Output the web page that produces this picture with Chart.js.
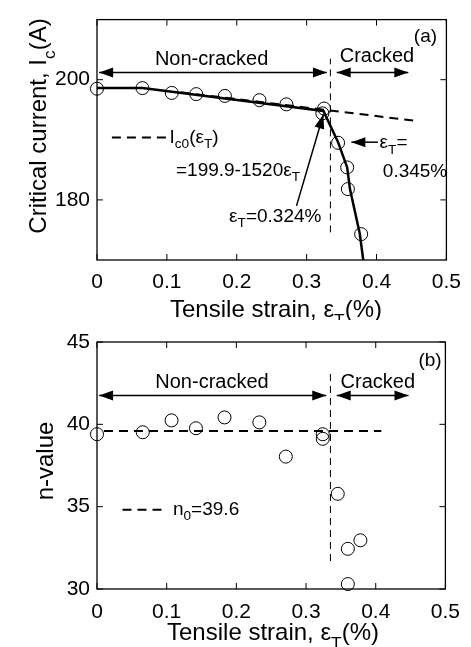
<!DOCTYPE html>
<html>
<head>
<meta charset="utf-8">
<script src="https://cdn.jsdelivr.net/npm/chart.js@4.4.1/dist/chart.umd.min.js"></script>
<style>
body{margin:0;background:#fff;}
#wrap{position:relative;width:471px;height:647px;}
canvas{position:absolute;left:0;}
#chartA{top:0;}
#chartB{top:320px;}
</style>
</head>
<body>
<div id="wrap">
<canvas id="chartA" width="471" height="320"></canvas>
<canvas id="chartB" width="471" height="327"></canvas>
</div>
<script>
// shared x axis (tensile strain, %)
const xTicks = [0, 0.1, 0.2, 0.3, 0.4, 0.5];
const xTickLabels = ["0", "0.1", "0.2", "0.3", "0.4", "0.5"];

// panel (a): critical current
const strainA = [0, 0.065, 0.107, 0.142, 0.183, 0.2325, 0.271, 0.325, 0.3225, 0.345, 0.358, 0.359, 0.378];
const currentA = [198.5, 198.6, 197.8, 197.6, 197.3, 196.6, 195.9, 195.2, 194.4, 189.5, 185.4, 181.8, 174.3];
const fitStrainA = [0, 0.065, 0.324, 0.345, 0.358, 0.362, 0.376, 0.381];
const fitCurrentA = [198.6, 198.6, 194.8, 189.6, 185.4, 181.8, 174.4, 170];
const ic0Strain = [0.12, 0.46];
const ic0Current = [197.9, 193.1];
const crackStrainA = 0.334;
const crackRangeA = [174.6, 203.5];
const yTicksA = [180, 200];
const yTickLabelsA = ["180", "200"];

// panel (b): n-value
const strainB = [0, 0.0657, 0.107, 0.142, 0.183, 0.233, 0.271, 0.324, 0.324, 0.3455, 0.36, 0.378, 0.36];
const nValueB = [39.4, 39.52, 40.24, 39.76, 40.42, 40.12, 38.04, 39.4, 39.12, 35.78, 32.44, 32.96, 30.3];
const n0Strain = [0.01, 0.408];
const n0Value = [39.6, 39.6];
const crackStrainB = 0.335;
const crackRangeB = [31.7, 43.25];
const yTicksB = [30, 35, 40, 45];
const yTickLabelsB = ["30", "35", "40", "45"];

const FONT = "Liberation Sans, Arial, sans-serif";

function pts(xs, ys) {
    return xs.map((x, i) => ({x: x, y: ys[i]}));
}

function drawRich(ctx, segs, x, y, size, align) {
    let w = 0;
    segs.forEach(s => {
        ctx.font = (s[1] ? size * 0.72 : size) + "px " + FONT;
        w += ctx.measureText(s[0]).width;
    });
    let cx = align === "center" ? x - w / 2 : x;
    ctx.textAlign = "left";
    segs.forEach(s => {
        const sz = s[1] ? size * 0.72 : size;
        ctx.font = sz + "px " + FONT;
        ctx.fillText(s[0], cx, y + (s[1] ? size * 0.36 : 0));
        cx += ctx.measureText(s[0]).width;
    });
}

function head(ctx, x1, y1, x2, y2) {
    const a = Math.atan2(y2 - y1, x2 - x1);
    const len = 14, hw = 5;
    ctx.beginPath();
    ctx.moveTo(x2, y2);
    ctx.lineTo(x2 - len * Math.cos(a) + hw * Math.sin(a), y2 - len * Math.sin(a) - hw * Math.cos(a));
    ctx.lineTo(x2 - len * Math.cos(a) - hw * Math.sin(a), y2 - len * Math.sin(a) + hw * Math.cos(a));
    ctx.closePath();
    ctx.fill();
}

// frame, inward ticks, arrows, notes and axis titles
const decor = {
    id: "decor",
    afterDraw(chart, args, o) {
        const ctx = chart.ctx, a = chart.chartArea;
        const xs = chart.scales.x, ys = chart.scales.y;
        ctx.save();
        ctx.strokeStyle = "#000";
        ctx.fillStyle = "#000";
        ctx.lineWidth = 1.3;
        ctx.strokeRect(a.left, a.top, a.right - a.left, a.bottom - a.top);
        ctx.lineWidth = 1;
        ctx.beginPath();
        xTicks.forEach(v => {
            const px = xs.getPixelForValue(v);
            ctx.moveTo(px, a.bottom); ctx.lineTo(px, a.bottom - 6);
            ctx.moveTo(px, a.top); ctx.lineTo(px, a.top + 6);
        });
        o.yTicks.forEach(v => {
            const py = ys.getPixelForValue(v);
            ctx.moveTo(a.left, py); ctx.lineTo(a.left + 6, py);
            ctx.moveTo(a.right, py); ctx.lineTo(a.right - 6, py);
        });
        ctx.stroke();

        ctx.lineWidth = 1.5;
        o.arrows.forEach(ar => {
            const x1 = xs.getPixelForValue(ar.from[0]), y1 = ys.getPixelForValue(ar.from[1]);
            const x2 = xs.getPixelForValue(ar.to[0]), y2 = ys.getPixelForValue(ar.to[1]);
            ctx.beginPath(); ctx.moveTo(x1, y1); ctx.lineTo(x2, y2); ctx.stroke();
            head(ctx, x1, y1, x2, y2);
            if (ar.both) head(ctx, x2, y2, x1, y1);
        });

        ctx.textBaseline = "middle";
        o.notes.forEach(n => {
            drawRich(ctx, n.segs, xs.getPixelForValue(n.x), ys.getPixelForValue(n.y), n.size || 20, n.align || "left");
        });

        ctx.textBaseline = "alphabetic";
        drawRich(ctx, o.xTitle, o.xTitlePos[0], o.xTitlePos[1], 24, "center");
        ctx.translate(o.yTitlePos[0], o.yTitlePos[1]);
        ctx.rotate(-Math.PI / 2);
        drawRich(ctx, o.yTitle, 0, 0, 24, "center");
        ctx.restore();
    }
};

function scales(yMin, yMax, yTicks, yLabels, xH, xPad) {
    return {
        x: {
            type: "linear", min: 0, max: 0.5,
            afterBuildTicks: s => { s.ticks = xTicks.map(v => ({value: v})); },
            afterFit: s => { s.height = xH; },
            grid: {display: false, drawTicks: false},
            border: {display: false},
            ticks: {color: "#000", font: {family: FONT, size: 21}, padding: xPad, maxRotation: 0, autoSkip: false,
                callback: (v, i) => xTickLabels[i]}
        },
        y: {
            type: "linear", min: yMin, max: yMax,
            afterBuildTicks: s => { s.ticks = yTicks.map(v => ({value: v})); },
            afterFit: s => { s.width = 97; },
            grid: {display: false, drawTicks: false},
            border: {display: false},
            ticks: {color: "#000", font: {family: FONT, size: 21}, padding: 7, autoSkip: false,
                callback: (v, i) => yLabels[i]}
        }
    };
}

const circle = {
    showLine: false, pointStyle: "circle", pointRadius: 6.5, pointHoverRadius: 6.5,
    pointBorderWidth: 1, pointBorderColor: "#000", pointBackgroundColor: "rgba(0,0,0,0)", clip: false
};
const eT = [["ε"], ["T", 1]];

new Chart(document.getElementById("chartA"), {
    type: "scatter",
    data: {
        datasets: [
            Object.assign({data: pts(strainA, currentA)}, circle),
            {data: pts(fitStrainA, fitCurrentA), showLine: true, borderColor: "#000", borderWidth: 2.5, pointRadius: 0, tension: 0},
            {data: pts(ic0Strain, ic0Current), showLine: true, borderColor: "#000", borderWidth: 2, borderDash: [9, 6], pointRadius: 0},
            {data: pts([crackStrainA, crackStrainA], crackRangeA), showLine: true, borderColor: "#000", borderWidth: 1, borderDash: [7, 5], pointRadius: 0},
            {data: pts([0.0213, 0.1009], [190.4, 190.4]), showLine: true, borderColor: "#000", borderWidth: 2, borderDash: [9, 6], pointRadius: 0}
        ]
    },
    options: {
        responsive: false, animation: false,
        layout: {padding: {top: 12, right: 22, left: 0, bottom: 0}},
        plugins: {
            legend: {display: false}, tooltip: {enabled: false},
            decor: {
                yTicks: yTicksA,
                arrows: [
                    {from: [0.003, 201.2], to: [0.329, 201.2], both: true},
                    {from: [0.343, 201.2], to: [0.4455, 201.2], both: true},
                    {from: [0.2855, 179.0], to: [0.3239, 194.2]},
                    {from: [0.402, 189.6], to: [0.364, 189.6]}
                ],
                notes: [
                    {x: 0.164, y: 203.3, segs: [["Non-cracked"]], align: "center"},
                    {x: 0.4006, y: 203.84, segs: [["Cracked"]], align: "center"},
                    {x: 0.470, y: 207.15, segs: [["(a)"]], align: "center", size: 19},
                    {x: 0.1037, y: 190.4, segs: [["I"], ["c0", 1], ["(ε"], ["T", 1], [")"]], size: 19},
                    {x: 0.113, y: 184.9, segs: [["=199.9-1520ε"], ["T", 1]], size: 19},
                    {x: 0.189, y: 177.2, segs: eT.concat([["=0.324%"]]), size: 19},
                    {x: 0.4044, y: 189.44, segs: eT.concat([["="]]), size: 19},
                    {x: 0.409, y: 184.64, segs: [["0.345%"]], size: 19}
                ],
                xTitle: [["Tensile strain, ε"], ["T", 1], ["(%)"]],
                xTitlePos: [276, 317],
                yTitle: [["Critical current, I"], ["c", 1], ["(A)"]],
                yTitlePos: [46, 126]
            }
        },
        scales: scales(170, 210, yTicksA, yTickLabelsA, 60, 10)
    },
    plugins: [decor]
});

new Chart(document.getElementById("chartB"), {
    type: "scatter",
    data: {
        datasets: [
            Object.assign({data: pts(strainB, nValueB)}, circle),
            {data: pts(n0Strain, n0Value), showLine: true, borderColor: "#000", borderWidth: 2, borderDash: [9, 6], pointRadius: 0},
            {data: pts([crackStrainB, crackStrainB], crackRangeB), showLine: true, borderColor: "#000", borderWidth: 1, borderDash: [7, 5], pointRadius: 0},
            {data: pts([0.0366, 0.0958], [34.82, 34.82]), showLine: true, borderColor: "#000", borderWidth: 2, borderDash: [9, 6], pointRadius: 0}
        ]
    },
    options: {
        responsive: false, animation: false,
        layout: {padding: {top: 22, right: 18, left: 0, bottom: 0}},
        plugins: {
            legend: {display: false}, tooltip: {enabled: false},
            decor: {
                yTicks: yTicksB,
                arrows: [
                    {from: [0.003, 41.75], to: [0.329, 41.75], both: true},
                    {from: [0.344, 41.75], to: [0.447, 41.75], both: true}
                ],
                notes: [
                    {x: 0.165, y: 42.55, segs: [["Non-cracked"]], align: "center"},
                    {x: 0.403, y: 42.53, segs: [["Cracked"]], align: "center"},
                    {x: 0.478, y: 43.86, segs: [["(b)"]], align: "center", size: 19},
                    {x: 0.109, y: 34.82, segs: [["n"], ["0", 1], ["=39.6"]], size: 19}
                ],
                xTitle: [["Tensile strain, ε"], ["T", 1], ["(%)"]],
                xTitlePos: [273, 320],
                yTitle: [["n-value"]],
                yTitlePos: [53, 141]
            }
        },
        scales: scales(30, 45, yTicksB, yTickLabelsB, 58, 11)
    },
    plugins: [decor]
});
</script>
</body>
</html>
